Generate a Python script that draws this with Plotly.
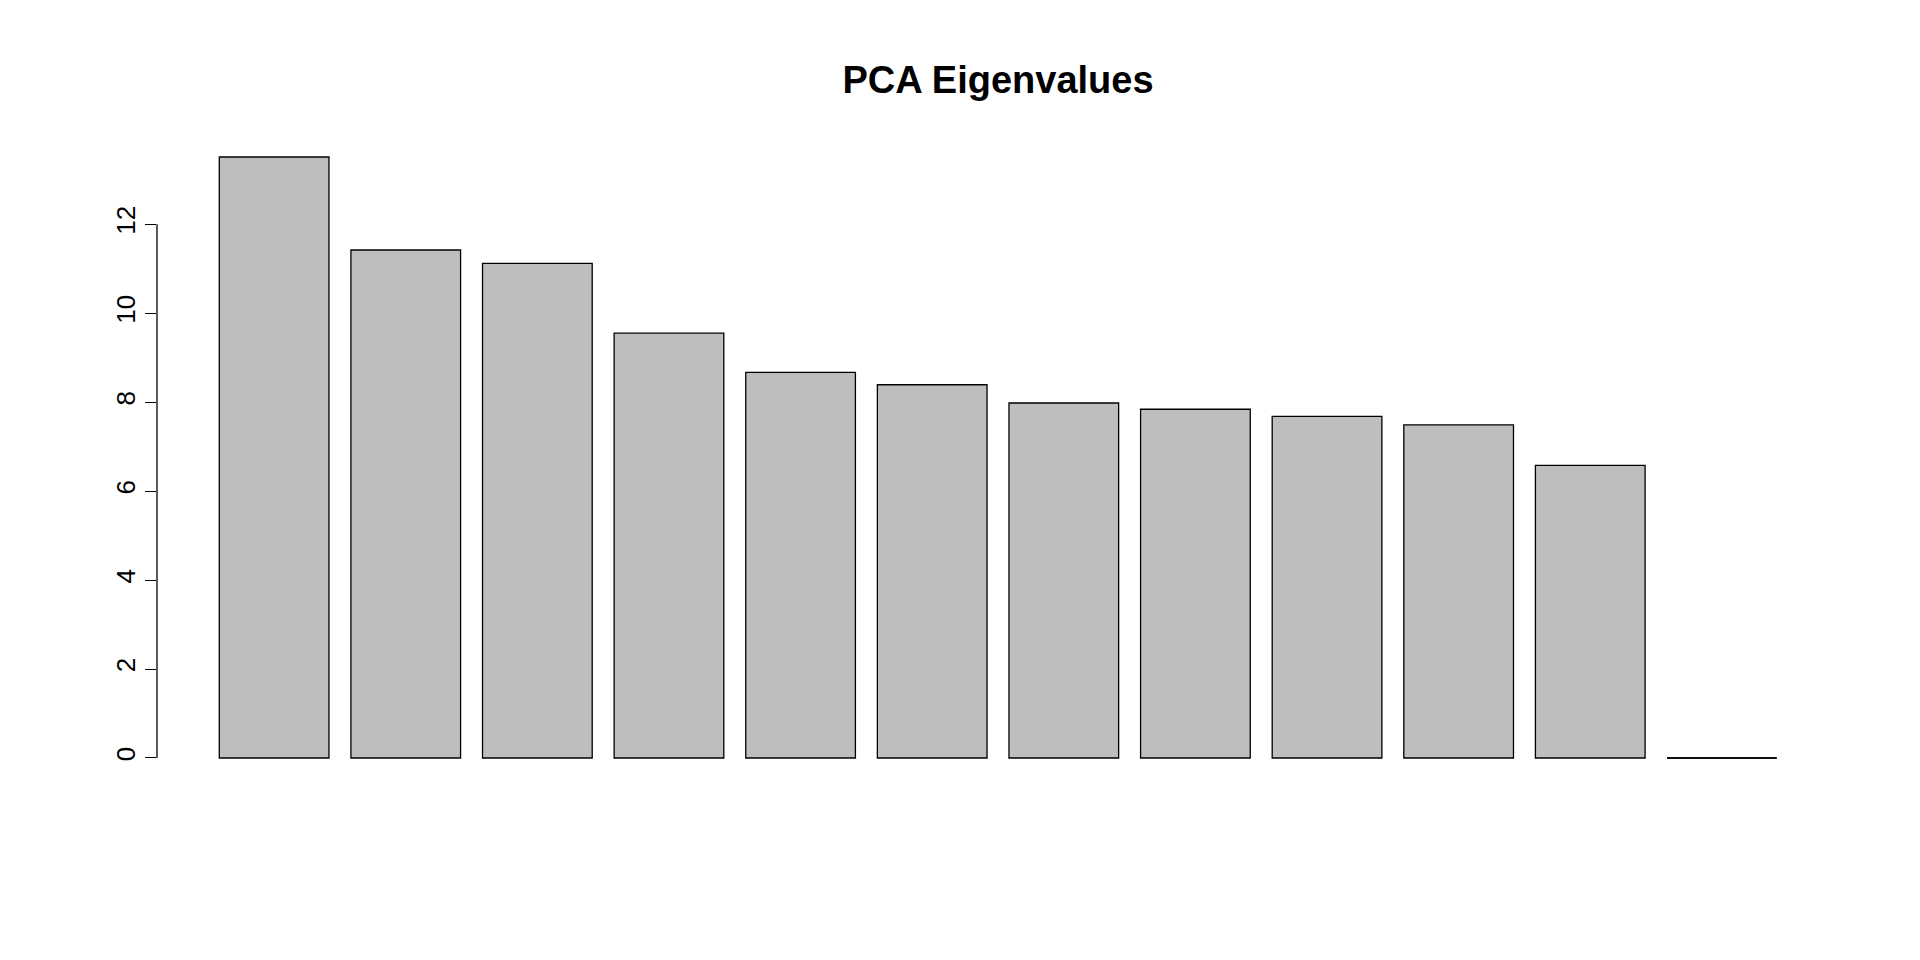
import plotly.graph_objects as go

components = list(range(1, 13))
eigenvalues = [13.51, 11.42, 11.12, 9.55, 8.67, 8.39, 7.98, 7.84, 7.68, 7.49, 6.58, 0.0]
y_ticks = [0, 2, 4, 6, 8, 10, 12]

# R barplot positions: width 1, space 0.2
xpos = [0.7 + 1.2 * (c - 1) for c in components]

fig = go.Figure(go.Bar(
    x=xpos, y=eigenvalues, width=1,
    marker=dict(color='#bebebe', line=dict(color='black', width=1.3)),
))

fig.update_layout(
    width=1920, height=960,
    paper_bgcolor='white', plot_bgcolor='white',
    margin=dict(l=149, r=89, t=125, b=186),
    font=dict(family='Liberation Sans, Arial', color='black'),
    title=dict(text='<b>PCA Eigenvalues</b>', xref='paper', x=0.5, xanchor='center',
               y=1 - 72 / 960, yanchor='middle', font=dict(size=38)),
    showlegend=False,
    xaxis=dict(range=[-0.368, 14.968], visible=False),
    yaxis=dict(range=[-0.54, 14.05], tickvals=y_ticks, ticks='outside',
               ticklen=11, tickwidth=1.3, tickcolor='black', tickangle=-90,
               tickfont=dict(size=26), showgrid=False, zeroline=False,
               showline=False),
    shapes=[
        dict(type='line', xref='paper', yref='y', x0=0, x1=0,
             y0=y_ticks[0], y1=y_ticks[-1], line=dict(color='black', width=1.3)),
        dict(type='line', xref='x', yref='y', x0=xpos[-1] - 0.5, x1=xpos[-1] + 0.5,
             y0=eigenvalues[-1], y1=eigenvalues[-1], line=dict(color='black', width=1.3)),
    ],
)

fig.write_html("out.html")
